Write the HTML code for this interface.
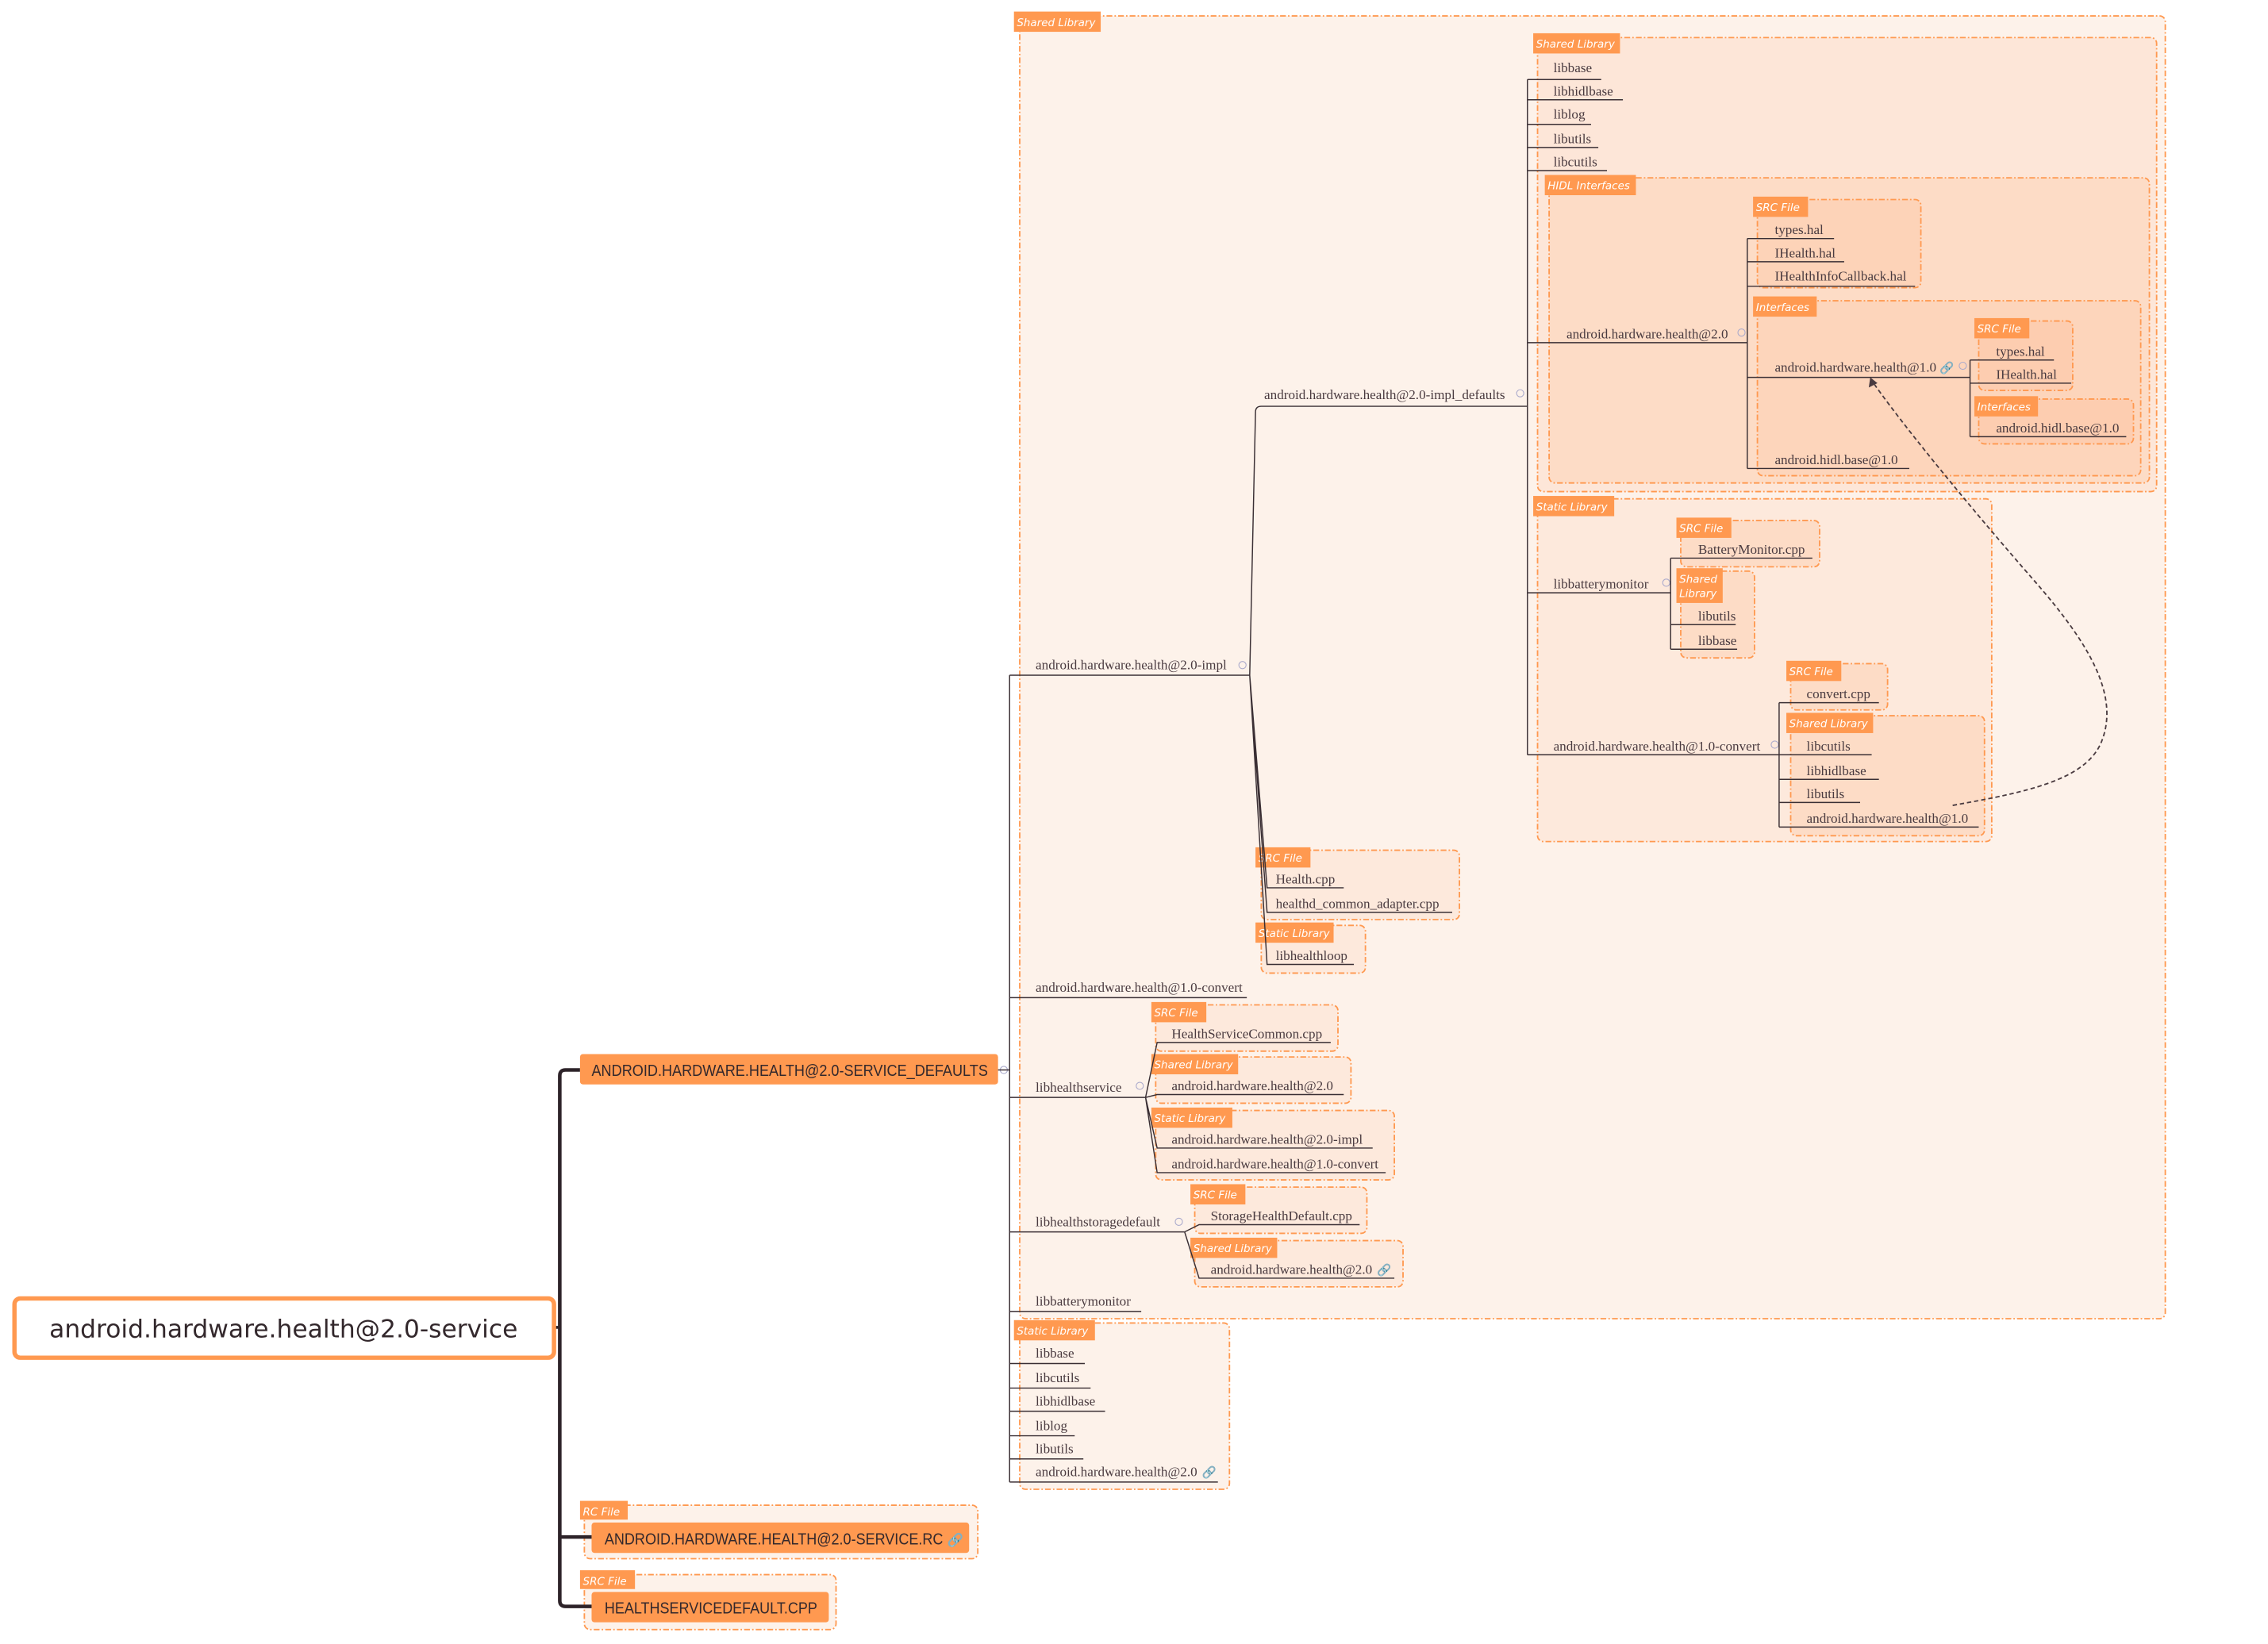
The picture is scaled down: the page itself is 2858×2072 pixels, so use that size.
<!DOCTYPE html>
<html><head><meta charset="utf-8"><style>
html,body{margin:0;padding:0;background:#fff;}
svg{display:block;}
.t{font-family:"Liberation Serif",serif;font-size:9.4px;fill:#4a3b40;}
.g{font-family:"DejaVu Sans","Liberation Sans",sans-serif;font-style:italic;font-size:7.4px;fill:#fff;}
.ln{stroke:#3a2f34;stroke-width:0.8;fill:none;}
.bx{stroke:#ff9950;stroke-width:1;stroke-dasharray:4 1.5 1 1.5;}
.tag{fill:#ff9950;}
.n{font-family:"Liberation Sans",sans-serif;font-size:11px;fill:#33282c;}
</style></head><body>
<svg width="2858" height="2072" viewBox="0 0 1568 1137" preserveAspectRatio="none" xmlns="http://www.w3.org/2000/svg">
<rect width="1568" height="1137" fill="#fff"/>

<rect class="bx" x="705" y="11" width="792" height="901" rx="4" fill="#fdf2ea"/>
<rect class="tag" x="701" y="8" width="60" height="14"/><text class="g" x="703" y="18">Shared Library</text>
<rect class="bx" x="705" y="915" width="145" height="115" rx="4" fill="#fdf2ea"/>
<rect class="tag" x="701" y="913" width="56" height="14"/><text class="g" x="703" y="923">Static Library</text>

<rect class="bx" x="1063" y="26" width="428" height="314" rx="4" fill="#fde6d8"/>
<rect class="tag" x="1060" y="23" width="60" height="14"/><text class="g" x="1062" y="33">Shared Library</text>
<rect class="bx" x="1071" y="123" width="415" height="211" rx="4" fill="#fddcc6"/>
<rect class="tag" x="1068" y="121" width="63" height="14"/><text class="g" x="1070" y="131">HIDL Interfaces</text>
<rect class="bx" x="1215" y="138" width="113" height="61" rx="4" fill="#fdd3b8"/>
<rect class="tag" x="1212" y="136" width="38" height="14"/><text class="g" x="1214" y="146">SRC File</text>
<rect class="bx" x="1215" y="208" width="265" height="121" rx="4" fill="#fdd5bb"/>
<rect class="tag" x="1212" y="205" width="44" height="14"/><text class="g" x="1214" y="215">Interfaces</text>
<rect class="bx" x="1368" y="222" width="65" height="48" rx="4" fill="#fdcdb0"/>
<rect class="tag" x="1365" y="220" width="38" height="14"/><text class="g" x="1367" y="230">SRC File</text>
<rect class="bx" x="1368" y="276" width="107" height="31" rx="4" fill="#fdcdb0"/>
<rect class="tag" x="1365" y="274" width="44" height="14"/><text class="g" x="1367" y="284">Interfaces</text>

<rect class="bx" x="1063" y="345" width="314" height="237" rx="4" fill="#fde9dc"/>
<rect class="tag" x="1060" y="343" width="56" height="14"/><text class="g" x="1062" y="353">Static Library</text>
<rect class="bx" x="1162" y="360" width="96" height="32" rx="4" fill="#fddcc6"/>
<rect class="tag" x="1159" y="358" width="38" height="14"/><text class="g" x="1161" y="368">SRC File</text>
<rect class="bx" x="1162" y="395" width="51" height="60" rx="4" fill="#fddcc6"/>
<rect class="tag" x="1159" y="393" width="32" height="24"/><text class="g" x="1161" y="403">Shared</text><text class="g" x="1161" y="413">Library</text>
<rect class="bx" x="1238" y="459" width="67" height="32" rx="4" fill="#fddcc6"/>
<rect class="tag" x="1235" y="457" width="38" height="14"/><text class="g" x="1237" y="467">SRC File</text>
<rect class="bx" x="1238" y="495" width="134" height="83" rx="4" fill="#fddcc6"/>
<rect class="tag" x="1235" y="493" width="60" height="14"/><text class="g" x="1237" y="503">Shared Library</text>

<rect class="bx" x="872" y="588" width="137" height="48" rx="4" fill="#fde9dc"/>
<rect class="tag" x="868" y="586" width="38" height="14"/><text class="g" x="870" y="596">SRC File</text>
<rect class="bx" x="872" y="640" width="72" height="33" rx="4" fill="#fde9dc"/>
<rect class="tag" x="868" y="638" width="54" height="14"/><text class="g" x="870" y="648">Static Library</text>

<rect class="bx" x="799" y="695" width="126" height="32" rx="4" fill="#fde9dc"/>
<rect class="tag" x="796" y="693" width="38" height="14"/><text class="g" x="798" y="703">SRC File</text>
<rect class="bx" x="799" y="731" width="135" height="32" rx="4" fill="#fde9dc"/>
<rect class="tag" x="796" y="729" width="60" height="14"/><text class="g" x="798" y="739">Shared Library</text>
<rect class="bx" x="799" y="768" width="165" height="48" rx="4" fill="#fde9dc"/>
<rect class="tag" x="796" y="766" width="56" height="14"/><text class="g" x="798" y="776">Static Library</text>
<rect class="bx" x="826" y="821" width="119" height="32" rx="4" fill="#fde9dc"/>
<rect class="tag" x="823" y="819" width="38" height="14"/><text class="g" x="825" y="829">SRC File</text>
<rect class="bx" x="826" y="858" width="144" height="32" rx="4" fill="#fde9dc"/>
<rect class="tag" x="823" y="856" width="60" height="14"/><text class="g" x="825" y="866">Shared Library</text>

<rect class="bx" x="404" y="1041" width="272" height="37" rx="4" fill="#fdf2ea"/>
<rect class="tag" x="401" y="1038" width="33" height="13"/><text class="g" x="403" y="1048">RC File</text>
<rect class="bx" x="404" y="1089" width="174" height="38" rx="4" fill="#fdf2ea"/>
<rect class="tag" x="401" y="1086" width="38" height="13"/><text class="g" x="403" y="1096">SRC File</text>

<path d="M383 918 H387" stroke="#2d2329" stroke-width="2" fill="none"/>
<path d="M401 740 H391 Q387 740 387 744 V1107 Q387 1111 391 1111 H409" stroke="#2d2329" stroke-width="2.5" fill="none"/>
<path d="M387 1063 H409" stroke="#2d2329" stroke-width="2.5" fill="none"/>

<rect x="10" y="898" width="373" height="41" rx="4" fill="#fff" stroke="#ff9950" stroke-width="3"/>
<text x="196" y="925" text-anchor="middle" font-family="DejaVu Sans, sans-serif" font-size="17.2" fill="#33282c">android.hardware.health@2.0-service</text>

<rect x="401" y="729" width="289" height="21" rx="2" fill="#ff9950"/>
<text class="n" x="409" y="744" textLength="274" lengthAdjust="spacingAndGlyphs">ANDROID.HARDWARE.HEALTH@2.0-SERVICE_DEFAULTS</text>
<circle cx="694" cy="740" r="2.5" fill="none" stroke="#aac" stroke-width="0.6"/>
<rect x="409" y="1053" width="261" height="21" rx="2" fill="#ff9950"/>
<text class="n" x="418" y="1068" textLength="234" lengthAdjust="spacingAndGlyphs">ANDROID.HARDWARE.HEALTH@2.0-SERVICE.RC</text>
<text x="655" y="1068" font-size="9" fill="#2a7ae2">🔗</text>
<rect x="409" y="1101" width="164" height="21" rx="2" fill="#ff9950"/>
<text class="n" x="418" y="1116" textLength="147" lengthAdjust="spacingAndGlyphs">HEALTHSERVICEDEFAULT.CPP</text>

<path class="ln" d="M690 740 H698 M698 467 V1025"/>
<path class="ln" d="M698 467 H864 M698 690 H862 M698 759 H792 M698 852 H819 M698 907 H789
M698 943 H750 M698 960 H754 M698 976 H764 M698 993 H743 M698 1009 H749 M698 1025 H842"/>
<text class="t" x="716" y="463">android.hardware.health@2.0-impl</text>
<text class="t" x="716" y="686">android.hardware.health@1.0-convert</text>
<text class="t" x="716" y="755">libhealthservice</text>
<text class="t" x="716" y="848">libhealthstoragedefault</text>
<text class="t" x="716" y="903">libbatterymonitor</text>
<text class="t" x="716" y="939">libbase</text>
<text class="t" x="716" y="956">libcutils</text>
<text class="t" x="716" y="972">libhidlbase</text>
<text class="t" x="716" y="989">liblog</text>
<text class="t" x="716" y="1005">libutils</text>
<text class="t" x="716" y="1021">android.hardware.health@2.0</text>
<text x="831" y="1021" font-size="8" fill="#2a7ae2">🔗</text>
<circle cx="859" cy="460" r="2.5" fill="none" stroke="#aac" stroke-width="0.6"/>
<circle cx="788" cy="751" r="2.5" fill="none" stroke="#aac" stroke-width="0.6"/>
<circle cx="815" cy="845" r="2.5" fill="none" stroke="#aac" stroke-width="0.6"/>

<path class="ln" d="M864 467 L868 285 Q868 281 872 281 H1056 M864 467 L876 614 H929 M864 467 L876 631 H1004 M864 467 L876 667 H936"/>
<text class="t" x="874" y="276">android.hardware.health@2.0-impl_defaults</text>
<circle cx="1051" cy="272" r="2.5" fill="none" stroke="#aac" stroke-width="0.6"/>
<text class="t" x="882" y="611">Health.cpp</text>
<text class="t" x="882" y="628">healthd_common_adapter.cpp</text>
<text class="t" x="882" y="664">libhealthloop</text>

<path class="ln" d="M792 759 L800 721 H920 M792 759 L800 757 H929 M792 759 L800 794 H949 M792 759 L800 811 H958"/>
<text class="t" x="810" y="718">HealthServiceCommon.cpp</text>
<text class="t" x="810" y="754">android.hardware.health@2.0</text>
<text class="t" x="810" y="791">android.hardware.health@2.0-impl</text>
<text class="t" x="810" y="808">android.hardware.health@1.0-convert</text>
<path class="ln" d="M819 852 L829 847 H940 M819 852 L829 884 H964"/>
<text class="t" x="837" y="844">StorageHealthDefault.cpp</text>
<text class="t" x="837" y="881">android.hardware.health@2.0</text>
<text x="952" y="881" font-size="8" fill="#2a7ae2">🔗</text>

<path class="ln" d="M1056 55 V522 M1056 55 H1107 M1056 69 H1122 M1056 86 H1100 M1056 102 H1105 M1056 118 H1111 M1056 237 H1208 M1056 410 H1155 M1056 522 H1230"/>
<text class="t" x="1074" y="50">libbase</text>
<text class="t" x="1074" y="66">libhidlbase</text>
<text class="t" x="1074" y="82">liblog</text>
<text class="t" x="1074" y="99">libutils</text>
<text class="t" x="1074" y="115">libcutils</text>
<text class="t" x="1083" y="234">android.hardware.health@2.0</text>
<circle cx="1204" cy="230" r="2.5" fill="none" stroke="#aac" stroke-width="0.6"/>
<text class="t" x="1074" y="407">libbatterymonitor</text>
<circle cx="1152" cy="403" r="2.5" fill="none" stroke="#aac" stroke-width="0.6"/>
<text class="t" x="1074" y="519">android.hardware.health@1.0-convert</text>
<circle cx="1227" cy="515" r="2.5" fill="none" stroke="#aac" stroke-width="0.6"/>

<path class="ln" d="M1208 165 V324 M1208 165 H1268 M1208 181 H1275 M1208 198 H1324 M1208 261 H1362 M1208 324 H1320"/>
<text class="t" x="1227" y="162">types.hal</text>
<text class="t" x="1227" y="178">IHealth.hal</text>
<text class="t" x="1227" y="194">IHealthInfoCallback.hal</text>
<text class="t" x="1227" y="257">android.hardware.health@1.0</text>
<text x="1341" y="257" font-size="8" fill="#2a7ae2">🔗</text>
<circle cx="1357" cy="253" r="2.5" fill="none" stroke="#aac" stroke-width="0.6"/>
<text class="t" x="1227" y="321">android.hidl.base@1.0</text>
<path class="ln" d="M1362 249 V302 M1362 249 H1420 M1362 265 H1432 M1362 302 H1470"/>
<text class="t" x="1380" y="246">types.hal</text>
<text class="t" x="1380" y="262">IHealth.hal</text>
<text class="t" x="1380" y="299">android.hidl.base@1.0</text>

<path class="ln" d="M1155 386 V449 M1155 386 H1253 M1155 432 H1200 M1155 449 H1201"/>
<text class="t" x="1174" y="383">BatteryMonitor.cpp</text>
<text class="t" x="1174" y="429">libutils</text>
<text class="t" x="1174" y="446">libbase</text>
<path class="ln" d="M1230 486 V572 M1230 486 H1299 M1230 522 H1294 M1230 539 H1299 M1230 555 H1286 M1230 572 H1368"/>
<text class="t" x="1249" y="483">convert.cpp</text>
<text class="t" x="1249" y="519">libcutils</text>
<text class="t" x="1249" y="536">libhidlbase</text>
<text class="t" x="1249" y="552">libutils</text>
<text class="t" x="1249" y="569">android.hardware.health@1.0</text>

<path d="M1350 557 C1400 548 1440 540 1452 515 C1468 480 1440 440 1405 400 C1370 360 1320 300 1296 266" fill="none" stroke="#4a3b40" stroke-width="1" stroke-dasharray="3 2"/>
<path d="M1293 261 L1292 268 L1298 265 Z" fill="#4a3b40"/>
</svg>
</body></html>
